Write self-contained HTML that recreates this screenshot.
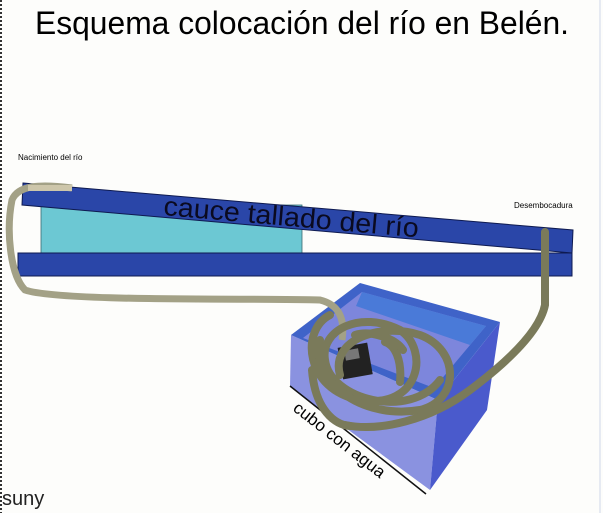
<!DOCTYPE html>
<html><head><meta charset="utf-8"><style>
html,body{margin:0;padding:0;background:#fdfdfb;}
svg{display:block;}
</style></head><body>
<svg width="603" height="513" viewBox="0 0 603 513" xmlns="http://www.w3.org/2000/svg">
<rect width="603" height="513" fill="#fdfdfb"/>
<line x1="1" y1="0" x2="1" y2="513" stroke="#333" stroke-width="2" stroke-dasharray="2,2"/>
<line x1="600" y1="0" x2="600" y2="513" stroke="#cfd8e8" stroke-width="1"/>
<text x="302" y="34" font-family="Liberation Sans, sans-serif" font-size="32" text-anchor="middle" fill="#000" textLength="534" lengthAdjust="spacingAndGlyphs">Esquema colocación del río en Belén.</text>
<text x="18" y="160" font-family="Liberation Sans, sans-serif" font-size="8" fill="#000">Nacimiento del río</text>
<text x="514" y="208" font-family="Liberation Sans, sans-serif" font-size="8" fill="#000">Desembocadura</text>
<rect x="41" y="205" width="261" height="48" fill="#6cc8d3" stroke="#3a6a70" stroke-width="0.8"/>
<rect x="18" y="253" width="554" height="23" fill="#2a46a8" stroke="#0e1a50" stroke-width="1"/>
<polygon points="23,183 573,230 572,253 22,205" fill="#2a46a8" stroke="#0e1a50" stroke-width="1"/>
<text x="163" y="215" font-family="Liberation Sans, sans-serif" font-size="27" fill="#0a0a20" transform="rotate(5 163 215)" textLength="256" lengthAdjust="spacingAndGlyphs">cauce tallado del río</text>
<polygon points="291,335 438,400 430,490 290,387" fill="#8a92e0"/>
<polygon points="438,400 500,322 487,410 430,490" fill="#4a5acc"/>
<polygon points="291,335 360,283 500,322 438,400" fill="#3f63c8"/>
<polygon points="303,338 362,292 486,326 434,388" fill="#7d86dc"/>
<polygon points="362,292 486,326 470,345 356,306" fill="#4a7ad8"/>
<line x1="290" y1="386" x2="426" y2="494" stroke="#111" stroke-width="1.5"/>
<text x="292" y="410" font-family="Liberation Sans, sans-serif" font-size="17" fill="#000" transform="rotate(38 292 410)">cubo con agua</text>
<rect x="340" y="345" width="30" height="32" fill="#222" transform="rotate(-10 355 360)"/>
<rect x="346" y="349" width="14" height="10" fill="#777" transform="rotate(-10 355 360)"/>
<path d="M72,188 C40,184 18,185 12,200 C6,230 10,275 25,290 C60,302 250,298 320,300 C340,305 345,320 342,340" fill="none" stroke="#a3a186" stroke-width="7"/>
<path d="M28,188 L72,188" stroke="#cdc6aa" stroke-width="6"/>
<g fill="none" stroke="#7a7a5a" stroke-width="8" stroke-linecap="round">
<path d="M330,315 C300,330 305,390 360,400 C420,410 430,350 400,330 C360,310 320,330 325,360 C330,400 410,420 440,380"/>
<path d="M320,340 C310,380 360,420 420,410 C460,400 460,350 420,335 C380,322 330,340 340,375"/>
<path d="M400,382 C402,360 395,345 385,342"/>
<path d="M355,335 C370,330 395,338 403,350"/>
<path d="M345,425 C380,432 430,420 470,390 C510,360 540,330 545,305 L545,232"/>
<path d="M312,370 C315,410 335,425 350,426"/>
</g>
<text x="2" y="505" font-family="Liberation Sans, sans-serif" font-size="20" fill="#222">suny</text>
</svg>
</body></html>
